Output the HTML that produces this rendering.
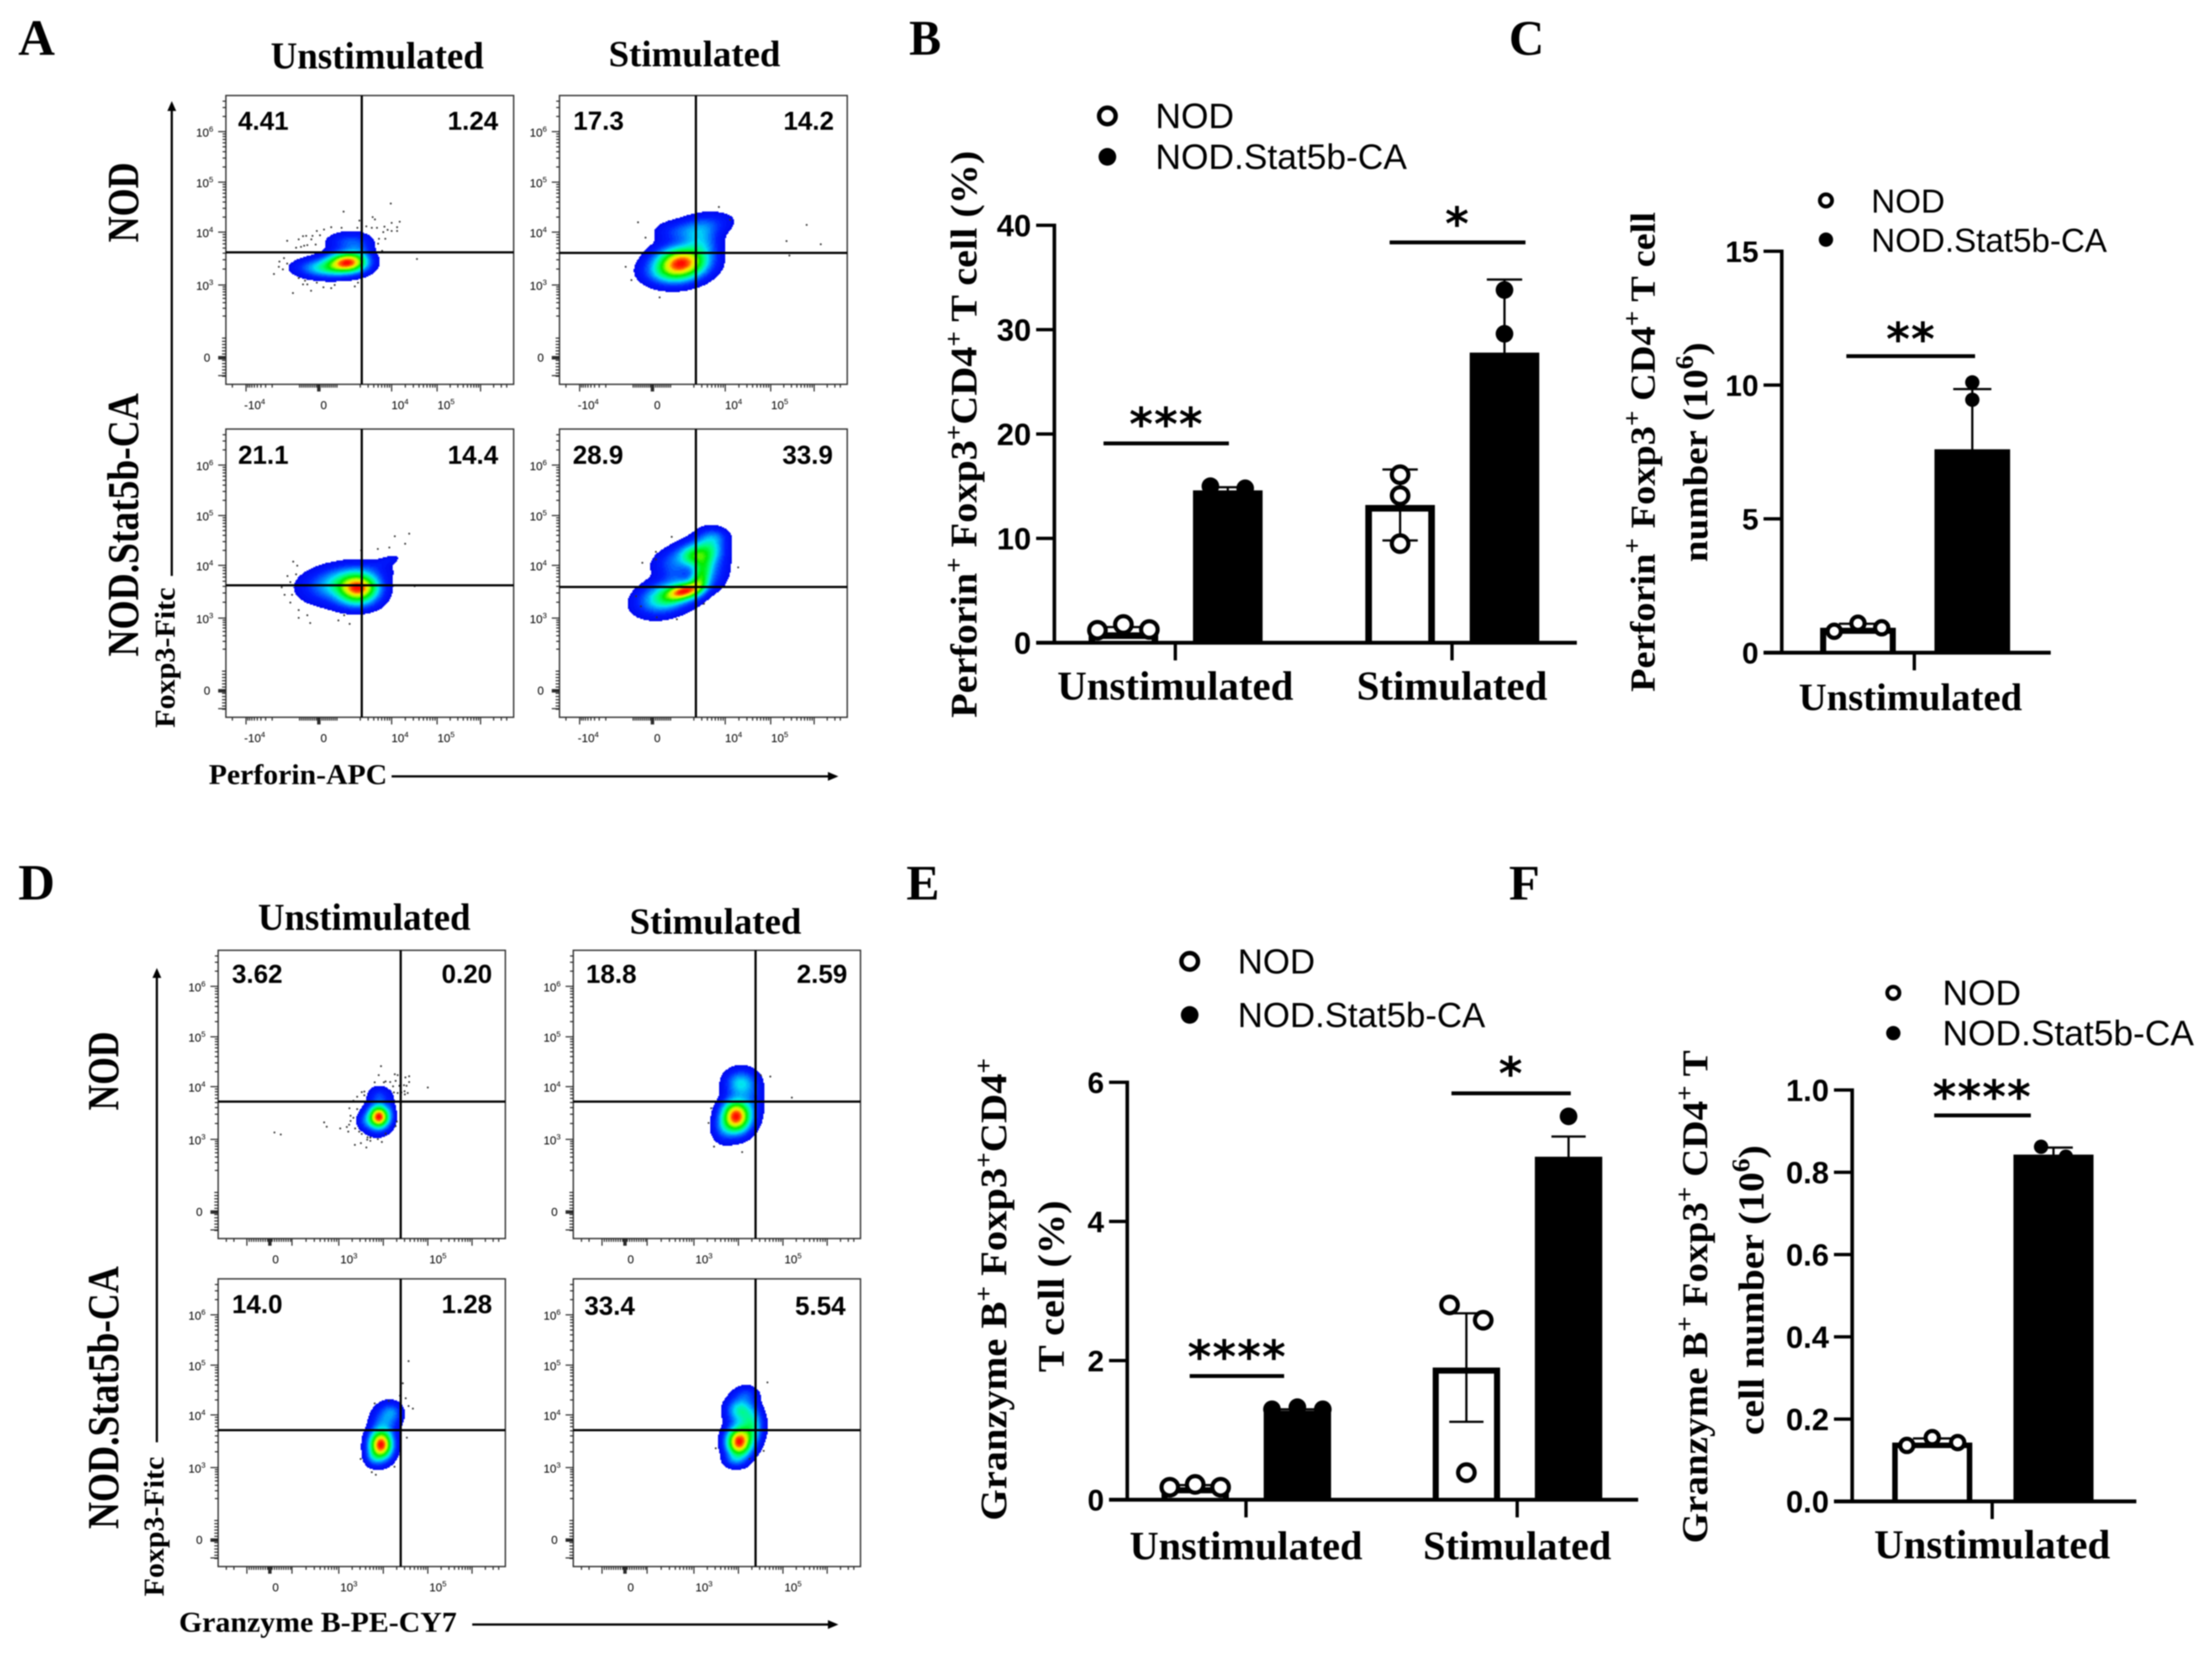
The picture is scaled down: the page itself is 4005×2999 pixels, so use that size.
<!DOCTYPE html>
<html lang="en">
<head>
<meta charset="utf-8">
<title>Perforin and Granzyme B flow cytometry figure</title>
<style>
html,body{margin:0;padding:0;background:#fff;}
svg{display:block;filter:blur(1.1px);}
.serif{font-family:"Liberation Serif",serif;font-weight:bold;fill:#000;}
.sans{font-family:"Liberation Sans",sans-serif;fill:#000;}
</style>
</head>
<body>
<svg id="figure" xmlns="http://www.w3.org/2000/svg" width="4005" height="2999" viewBox="0 0 4005 2999">
<rect width="4005" height="2999" fill="#fff"/>

<text class="serif" x="33" y="99" font-size="92">A</text>
<text class="serif" x="1646" y="99" font-size="90" textLength="58" lengthAdjust="spacingAndGlyphs">B</text>
<text class="serif" x="2732" y="99" font-size="90" textLength="64" lengthAdjust="spacingAndGlyphs">C</text>
<text class="serif" x="33" y="1629" font-size="92">D</text>
<text class="serif" x="1641" y="1629" font-size="90" textLength="60" lengthAdjust="spacingAndGlyphs">E</text>
<text class="serif" x="2732" y="1629" font-size="90" textLength="56" lengthAdjust="spacingAndGlyphs">F</text>

<text class="serif" x="490" y="124" font-size="69" textLength="386" lengthAdjust="spacingAndGlyphs">Unstimulated</text>
<text class="serif" x="1102" y="120" font-size="67" textLength="311" lengthAdjust="spacingAndGlyphs">Stimulated</text>
<text class="serif" transform="translate(250 439) rotate(-90)" font-size="80" textLength="145" lengthAdjust="spacingAndGlyphs">NOD</text>
<text class="serif" transform="translate(250 1189) rotate(-90)" font-size="80" textLength="477" lengthAdjust="spacingAndGlyphs">NOD.Stat5b-CA</text>
<text class="serif" transform="translate(316 1318) rotate(-90)" font-size="52" textLength="254" lengthAdjust="spacingAndGlyphs">Foxp3-Fitc</text>
<text class="serif" x="378" y="1420" font-size="52" textLength="323" lengthAdjust="spacingAndGlyphs">Perforin-APC</text>
<g>
<line x1="311" y1="1043" x2="311" y2="195" stroke="#000" stroke-width="4"/>
<polygon points="311,183 303,201 319,201" fill="#000"/>
</g>
<g>
<line x1="709" y1="1406" x2="1505" y2="1406" stroke="#000" stroke-width="4"/>
<polygon points="1518,1406 1499,1398 1499,1414" fill="#000"/>
</g>

<text class="serif" x="467" y="1684" font-size="69" textLength="385" lengthAdjust="spacingAndGlyphs">Unstimulated</text>
<text class="serif" x="1140" y="1691" font-size="67" textLength="311" lengthAdjust="spacingAndGlyphs">Stimulated</text>
<text class="serif" transform="translate(214 2011) rotate(-90)" font-size="80" textLength="143" lengthAdjust="spacingAndGlyphs">NOD</text>
<text class="serif" transform="translate(214 2769) rotate(-90)" font-size="80" textLength="476" lengthAdjust="spacingAndGlyphs">NOD.Stat5b-CA</text>
<text class="serif" transform="translate(296 2891) rotate(-90)" font-size="52" textLength="253" lengthAdjust="spacingAndGlyphs">Foxp3-Fitc</text>
<text class="serif" x="324" y="2955" font-size="52" textLength="503" lengthAdjust="spacingAndGlyphs">Granzyme B-PE-CY7</text>
<g>
<line x1="284" y1="2612" x2="284" y2="1765" stroke="#000" stroke-width="4"/>
<polygon points="284,1753 276,1771 292,1771" fill="#000"/>
</g>
<g>
<line x1="855" y1="2942" x2="1505" y2="2942" stroke="#000" stroke-width="4"/>
<polygon points="1518,2942 1499,2934 1499,2950" fill="#000"/>
</g>

<g id="flow-layer"></g>
<g id="bar-layer"></g>

<text class="serif" transform="translate(1768 1300) rotate(-90)" font-size="68" textLength="1027" lengthAdjust="spacingAndGlyphs">Perforin<tspan dy="-26" font-size="46">+</tspan><tspan dy="26"> Foxp3</tspan><tspan dy="-26" font-size="46">+</tspan><tspan dy="26">CD4</tspan><tspan dy="-26" font-size="46">+</tspan><tspan dy="26"> T cell (%)</tspan></text>
<text class="serif" transform="translate(2996 1253) rotate(-90)" font-size="64" textLength="869" lengthAdjust="spacingAndGlyphs">Perforin<tspan dy="-26" font-size="46">+</tspan><tspan dy="26"> Foxp3</tspan><tspan dy="-26" font-size="46">+</tspan><tspan dy="26"> CD4</tspan><tspan dy="-26" font-size="46">+</tspan><tspan dy="26"> T cell</tspan></text>
<text class="serif" transform="translate(3091 1018) rotate(-90)" font-size="64" textLength="398" lengthAdjust="spacingAndGlyphs">number (10<tspan dy="-26" font-size="46">6</tspan><tspan dy="26">)</tspan></text>
<text class="serif" transform="translate(1822 2754) rotate(-90)" font-size="68" textLength="838" lengthAdjust="spacingAndGlyphs">Granzyme B<tspan dy="-26" font-size="46">+</tspan><tspan dy="26"> Foxp3</tspan><tspan dy="-26" font-size="46">+</tspan><tspan dy="26">CD4</tspan><tspan dy="-26" font-size="46">+</tspan></text>
<text class="serif" transform="translate(1926 2485) rotate(-90)" font-size="68" textLength="311" lengthAdjust="spacingAndGlyphs">T cell (%)</text>
<text class="serif" transform="translate(3091 2795) rotate(-90)" font-size="66" textLength="893" lengthAdjust="spacingAndGlyphs">Granzyme B<tspan dy="-26" font-size="46">+</tspan><tspan dy="26"> Foxp3</tspan><tspan dy="-26" font-size="46">+</tspan><tspan dy="26"> CD4</tspan><tspan dy="-26" font-size="46">+</tspan><tspan dy="26"> T</tspan></text>
<text class="serif" transform="translate(3193 2599) rotate(-90)" font-size="66" textLength="525" lengthAdjust="spacingAndGlyphs">cell number (10<tspan dy="-26" font-size="46">6</tspan><tspan dy="26">)</tspan></text>

<g>
<circle cx="2005" cy="210" r="15" fill="#fff" stroke="#000" stroke-width="8"/>
<text class="sans" x="2092" y="232" font-size="64">NOD</text>
<circle cx="2005" cy="284" r="16" fill="#000"/>
<text class="sans" x="2092" y="306" font-size="64">NOD.Stat5b-CA</text>
</g>
<g>
<circle cx="3306" cy="363" r="11" fill="#fff" stroke="#000" stroke-width="7"/>
<text class="sans" x="3388" y="385" font-size="60">NOD</text>
<circle cx="3306" cy="434" r="13" fill="#000"/>
<text class="sans" x="3388" y="456" font-size="60">NOD.Stat5b-CA</text>
</g>
<g>
<circle cx="2154" cy="1741" r="15" fill="#fff" stroke="#000" stroke-width="8"/>
<text class="sans" x="2241" y="1763" font-size="63">NOD</text>
<circle cx="2154" cy="1838" r="16" fill="#000"/>
<text class="sans" x="2241" y="1860" font-size="63">NOD.Stat5b-CA</text>
</g>
<g>
<circle cx="3428" cy="1798" r="11" fill="#fff" stroke="#000" stroke-width="7"/>
<text class="sans" x="3517" y="1820" font-size="64">NOD</text>
<circle cx="3428" cy="1871" r="13" fill="#000"/>
<text class="sans" x="3517" y="1893" font-size="64">NOD.Stat5b-CA</text>
</g>
</svg>

<script>
/* ---------- Bar chart data ---------- */
const barGroups = ['Unstimulated', 'Stimulated'];
const barGroupsSingle = ['Unstimulated'];

const bTicks = [0, 10, 20, 30, 40];
const bNodMeans = [1.0, 13.2];
const bCaMeans = [14.6, 27.8];
const bNodErr = [0.5, 3.4];
const bCaErr = [0.3, 7.0];
const bNodPoints = [[1.2, 1.75, 1.27], [16.1, 14.1, 9.5]];
const bCaPoints = [[15.0, 14.8], [33.8, 29.6, 20.3]];

const cTicks = [0, 5, 10, 15];
const cNodMeans = [0.93];
const cCaMeans = [7.6];
const cNodErr = [0.15];
const cCaErr = [2.25];
const cNodPoints = [[0.8, 1.1, 0.93]];
const cCaPoints = [[10.1, 9.45, 3.25]];

const eTicks = [0, 2, 4, 6];
const eNodMeans = [0.18, 1.9];
const eCaMeans = [1.28, 4.93];
const eNodErr = [0.03, 0.78];
const eCaErr = [0.02, 0.29];
const eNodPoints = [[0.18, 0.22, 0.18], [2.8, 2.58, 0.39]];
const eCaPoints = [[1.3, 1.33, 1.3], [5.51, 4.7, 4.58]];

const fTicks = [0, 0.2, 0.4, 0.6, 0.8, 1.0];
const fTickLabels = ['0.0', '0.2', '0.4', '0.6', '0.8', '1.0'];
const fNodMeans = [0.143];
const fCaMeans = [0.843];
const fNodErr = [0.01];
const fCaErr = [0.017];
const fNodPoints = [[0.136, 0.155, 0.143]];
const fCaPoints = [[0.862, 0.838]];

/* ---------- Flow cytometry data: axis units are percent of the plot width and height ---------- */
/* density components: centre x, centre y, spread x, spread y, tilt, weight */
const aNodUnstimDensity = [[42, 57.5, 4.2, 2.2, 0, .8], [35, 59.5, 6, 2.1, 0, .35], [42.5, 50.5, 4.6, 2.1, 0, .13], [46, 55, 3, 3.3, 0, .12]];
const aNodStimDensity = [[42.5, 57.5, 5.5, 3.4, 0, .85], [38, 61, 5.5, 3, 0, .3], [49, 51, 4, 4, -40, .22], [50, 45, 6, 2.6, -10, .14], [41, 47, 5, 2.4, 0, .1]];
const aCaUnstimDensity = [[46, 55, 4.5, 3, 0, .8], [38, 54, 7, 3.6, -5, .25], [46, 49.5, 7, 2.5, -5, .1], [56, 45.5, 3.2, 1.1, -20, .05], [45, 60, 5, 2.2, 0, .12]];
const aCaStimDensity = [[43.5, 56, 4, 1.8, -15, .7], [37, 58, 6, 3.4, -15, .42], [49, 51, 2.2, 4, 20, .45], [47, 44, 3.5, 2.8, 0, .42], [52, 41, 3.5, 3.5, 15, .3], [54, 37, 3, 1.8, 0, .08], [40, 45, 5, 2.8, -20, .14], [54, 50, 3, 4, 25, .1], [40, 50, 3, 2.5, 0, .08]];
const dNodUnstimDensity = [[55.9, 57.4, 2.2, 2.4, 0, .8], [55, 58.5, 3, 3, 0, .25], [51, 59, 1.8, 1.8, 0, .08], [56, 50.5, 2.5, 2.2, 0, .13], [60, 55, 1, 3, 0, .05]];
const dNodStimDensity = [[56.5, 57.5, 3.2, 3.6, 0, .85], [58, 46, 3.4, 3, 0, .25], [62, 52, 2.8, 5, 0, .08], [52, 62, 2.5, 3, 0, .1]];
const dCaUnstimDensity = [[56.5, 57.5, 2.6, 3.2, 0, .8], [58, 49, 3, 3.5, 15, .16], [60.5, 46, 2.2, 2, 15, .1], [54, 62, 2, 2, 0, .1]];
const dCaStimDensity = [[57.5, 56.5, 2.8, 3.4, 0, .85], [57.8, 45.5, 3, 2.8, 0, .3], [62, 51, 2.5, 4, 0, .3], [60, 40, 2.8, 2, 0, .1], [56, 63, 2.5, 1.6, 0, .1]];

const aNodUnstimEvents = [[40.9,40.2],[57.3,37.4],[21.3,50.3],[25.3,49.8],[26.8,48.7],[27.9,48.6],[30.1,48.6],[32.7,48.4],[31.6,46.9],[34.1,46.4],[36.6,45.6],[40.2,45.8],[45.7,45.8],[46.4,43.3],[51,42.1],[51.8,42.9],[48.8,45.3],[50.7,45.8],[52.5,45.8],[55.1,45.4],[57.6,44.1],[60.4,43.7],[59.5,45.6],[59.5,46.9],[57.6,46.9],[54.7,47.3],[56.2,46.5],[53.2,49.6],[55.4,49.6],[52.9,51.3],[54.3,53.8],[66.4,56.6],[16.7,61.8],[20.2,56.3],[18.6,57.5],[18.4,59.3],[19.8,60.2],[21.3,58.2],[25.3,63.2],[27.5,64.1],[26.8,65.4],[28.3,65.4],[31.6,64.8],[33.9,66.4],[36.6,66.7],[37.8,65.6],[44.8,66.1],[45.9,64.8],[29.6,67.6],[23.3,68.4],[24.4,52.7],[26.1,52.4],[28.3,51.8],[29.7,49.8],[31.2,51.6],[27.2,52]];
const aNodStimEvents = [[27.3,43.9],[29.9,49.2],[23,59.3],[25,63.9],[34.8,69.9],[79.9,55.4],[78.9,50.4],[85.9,44.8],[90.8,51.5],[55.4,38.6],[59.3,43]];
const aCaUnstimEvents = [[23.4,46],[24.4,50.4],[22.4,53.1],[20.4,57.5],[22.4,60.2],[25.3,62.8],[28.3,64.6],[25.3,65.5],[39.1,66.4],[43,67.6],[41.1,64.6],[63.7,36.3],[58.7,37.2],[62.3,39.8],[56.8,41.1],[52.8,41.6],[47,42.1],[21.4,51],[19.4,54.9],[23,57.5],[24.8,47.4],[65.6,54.5],[29.3,67.3]];
const aCaStimEvents = [[39,37.4],[33.5,42.6],[33.5,45.2],[28.8,46.4],[62.1,48],[26.6,58],[28.3,61.5],[33.8,65.3],[40.8,66],[50.2,60.6]];
const dNodUnstimEvents = [[56.7,40.2],[55.9,43.3],[61.5,43],[62.5,43.3],[65.2,44.1],[66.5,43.7],[66.5,45.7],[73,47.6],[61.8,45.3],[59.9,45.7],[58.3,45.5],[57.7,45.8],[54.5,45.8],[60.9,47.2],[63.1,47],[64.7,46.8],[65.6,47],[61.2,49.3],[62.5,49.5],[63.8,49.3],[64.9,48.9],[66,49.5],[65,50],[50.9,49],[50,49.2],[50.9,50.3],[48.4,50.8],[47.1,52.2],[45.7,54.8],[48.4,55.1],[46.1,57.4],[47.1,58.1],[46.1,59.2],[45.6,60.5],[44.8,61.3],[42.5,61.8],[45.3,62.9],[47.7,61.8],[49.1,62.9],[50,63.7],[52,64.9],[53,65],[51.9,65.7],[53,66.1],[55.6,65.5],[57,66.5],[47.6,67.5],[49.7,66.9],[51.6,68.4],[58.3,63.6],[61.8,61],[62.2,59.4],[19.6,63.2],[21.8,63.9],[36.9,59.7],[37.8,61.2]];
const dNodStimEvents = [[68.6,43.8],[65.3,43.4],[76.1,51.1],[47.1,59.9],[49,68.1],[58.8,70],[48,54.8]];
const dCaUnstimEvents = [[66.3,28.6],[64.3,36.3],[63.3,40.6],[66.3,44.2],[67.8,45.1],[59.4,42.4],[54.5,43.3],[49.6,62.6],[53.5,67.2],[54.9,68.1],[61.4,65.3],[65.7,55.2],[65.3,41.5]];
const dCaStimEvents = [[67.6,36],[49.6,58.9],[66.3,59.8],[61.4,62.6]];

const aQuadrantLabels = [['4.41', '1.24'], ['17.3', '14.2'], ['21.1', '14.4'], ['28.9', '33.9']];
const dQuadrantLabels = [['3.62', '0.20'], ['18.8', '2.59'], ['14.0', '1.28'], ['33.4', '5.54']];
const flowYTickExponents = ['6', '5', '4', '3'];
const aXTickLabels = [['-10', '4'], ['0', ''], ['10', '4'], ['10', '5']];
const dXTickLabels = [['0', ''], ['10', '3'], ['10', '5']];

/* ---------- Helpers ---------- */
const NS = 'http://www.w3.org/2000/svg';
function mk(tag, parent, attrs) {
  const el = document.createElementNS(NS, tag);
  for (const k in attrs) el.setAttribute(k, attrs[k]);
  parent.appendChild(el);
  return el;
}

/* ---------- Flow plots ---------- */
const rampStops = [[0, [0,0,235]], [.1, [0,30,255]], [.2, [0,125,255]], [.3, [0,225,245]], [.42, [0,255,120]], [.55, [0,235,0]], [.7, [190,255,0]], [.8, [255,225,0]], [.9, [255,95,0]], [1, [255,0,0]]];
function rampColor(d) {
  for (let i = 1; i < rampStops.length; i++) {
    if (d <= rampStops[i][0]) {
      const a = rampStops[i - 1], b = rampStops[i], t = (d - a[0]) / (b[0] - a[0]);
      return 'rgb(' + [0, 1, 2].map(c => Math.round(a[1][c] + (b[1][c] - a[1][c]) * t)).join(',') + ')';
    }
  }
  return 'rgb(255,0,0)';
}

function logSeg(a, b) {
  const out = [];
  for (let j = 2; j < 10; j++) out.push(a + (b - a) * Math.log10(j));
  return out;
}

function drawDensity(g, box, comps) {
  const W = box.r - box.l, H = box.b - box.t, cell = 2, threshold = 0.03, levels = 48;
  const parts = comps.map(c => {
    const th = c[4] * Math.PI / 180;
    return {cx: box.l + W * c[0] / 100, cy: box.t + H * c[1] / 100, sx: W * c[2] / 100, sy: H * c[3] / 100, cos: Math.cos(th), sin: Math.sin(th), w: c[5]};
  });
  function field(x, y) {
    let s = 0;
    for (const p of parts) {
      const dx = x - p.cx, dy = y - p.cy;
      const u = (dx * p.cos + dy * p.sin) / p.sx, v = (-dx * p.sin + dy * p.cos) / p.sy;
      const e = u * u + v * v;
      if (e < 40) s += p.w * Math.exp(-0.5 * e);
    }
    return s;
  }
  let peak = 0;
  for (let y = box.t; y < box.b; y += cell) for (let x = box.l; x < box.r; x += cell) peak = Math.max(peak, field(x, y));
  const paths = {};
  for (let y = box.t; y < box.b; y += cell) {
    let runLevel = -1, runStart = 0;
    for (let x = box.l; x <= box.r; x += cell) {
      const d = x < box.r ? field(x, y) / peak : 0;
      const lvl = d < threshold ? -1 : Math.min(levels - 1, Math.floor(d * levels));
      if (lvl !== runLevel) {
        if (runLevel >= 0) paths[runLevel] = (paths[runLevel] || '') + 'M' + runStart + ' ' + y + 'h' + (x - runStart) + 'v' + cell + 'h' + (runStart - x) + 'z';
        runLevel = lvl;
        runStart = x;
      }
    }
  }
  for (const lvl in paths) {
    const band = mk('path', g, {d: paths[lvl], fill: rampColor((+lvl + .5) / levels), 'shape-rendering': 'crispEdges'});
    
    
  }
}

function drawFlowPanel(parent, box, density, events, stats, xAxis, labelInset) {
  const W = box.r - box.l, H = box.b - box.t;
  const X = p => box.l + W * p / 100, Y = p => box.t + H * p / 100;
  const g = mk('g', parent, {});
  
  

  drawDensity(g, box, density);

  for (const ev of events) {
    const dot = mk('circle', g, {cx: X(ev[0]), cy: Y(ev[1]), r: 1.7, fill: '#333'});
    
    
  }

  const border = mk('rect', g, {x: box.l, y: box.t, width: W, height: H, fill: 'none', stroke: '#333', 'stroke-width': 2.5});
  
  

  const vLine = mk('line', g, {x1: box.vx, x2: box.vx, y1: box.t, y2: box.b, stroke: '#000', 'stroke-width': 4});
  
  
  const hLine = mk('line', g, {x1: box.l, x2: box.r, y1: box.hy, y2: box.hy, stroke: '#000', 'stroke-width': 4});
  
  

  /* y axis ticks */
  const yMajors = [12.5, 30, 47.3, 65.6];
  let yd = '';
  const yMinor = [...logSeg(12.5, -5), ...logSeg(30, 12.5), ...logSeg(47.3, 30), ...logSeg(65.6, 47.3), ...logSeg(81, 65.6)];
  for (const p of yMinor) if (p > 1 && p < 99) yd += 'M' + box.l + ' ' + Y(p) + 'h-6';
  for (let p = 84; p < 97.5; p += 1.1) yd += 'M' + box.l + ' ' + Y(p) + 'h-7';
  for (const p of yMajors) yd += 'M' + box.l + ' ' + Y(p) + 'h-14';
  yd += 'M' + box.l + ' ' + Y(90.4) + 'h-14M' + box.l + ' ' + Y(90.8) + 'h-14M' + box.l + ' ' + Y(91.2) + 'h-14M' + box.l + ' ' + Y(97) + 'h-14';
  const yTicks = mk('path', g, {d: yd, stroke: '#222', 'stroke-width': 2, fill: 'none'});
  
  

  flowYTickExponents.forEach((exp, i) => {
    const t = mk('text', g, {class: 'sans', x: box.l - 54, y: Y(yMajors[i]) + 9, 'font-size': 21, fill: '#222'});
    t.textContent = '10';
    
    
    const s = mk('tspan', t, {dy: -9, 'font-size': 14});
    s.textContent = exp;
    
    
  });
  const zeroY = mk('text', g, {class: 'sans', x: box.l - 40, y: Y(90.8) + 7, 'font-size': 21, fill: '#222'});
  zeroY.textContent = '0';
  
  

  /* x axis ticks */
  let xd = '';
  for (const p of xAxis.minor) if (p > 1 && p < 99) xd += 'M' + X(p) + ' ' + box.b + 'v6';
  for (const p of xAxis.major) xd += 'M' + X(p) + ' ' + box.b + 'v13';
  const xTicks = mk('path', g, {d: xd, stroke: '#222', 'stroke-width': 2, fill: 'none'});
  
  

  xAxis.labels.forEach((lab, i) => {
    const t = mk('text', g, {class: 'sans', x: X(xAxis.labelAt[i]), y: box.b + 45, 'font-size': 21, fill: '#222', 'text-anchor': 'middle'});
    t.textContent = lab[0];
    
    
    if (lab[1]) {
      const s = mk('tspan', t, {dy: -9, 'font-size': 14});
      s.textContent = lab[1];
      
      
    }
  });

  const left = mk('text', g, {class: 'sans', x: box.l + labelInset[0], y: box.t + labelInset[1], 'font-size': 47, 'font-weight': 'bold'});
  left.textContent = stats[0];
  
  
  const right = mk('text', g, {class: 'sans', x: box.r - labelInset[2], y: box.t + labelInset[1], 'font-size': 47, 'font-weight': 'bold', 'text-anchor': 'end'});
  right.textContent = stats[1];
  
  
}

const flowLayer = document.getElementById('flow-layer');
function zeroRun(a, b, step) { const o = []; for (let p = a; p < b; p += step) o.push(p); return o; }
const aXAxis = {
  major: [7, 31.9, 32.3, 32.7, 57.6, 73.4, 88.5],
  minor: [...logSeg(57.6, 73.4), ...logSeg(73.4, 88.5), ...logSeg(88.5, 103.6), ...logSeg(7, -8.8), ...zeroRun(25.6, 39, .65), ...logSeg(42, 57.6), ...logSeg(20, 7)],
  labels: aXTickLabels, labelAt: [10, 34, 60.5, 76.5]
};
const dXAxis = {
  major: [10, 17.6, 18, 18.4, 25.7, 42, 57.5, 73, 88.4],
  minor: [...logSeg(25.7, 42), ...logSeg(42, 57.5), ...logSeg(57.5, 73), ...logSeg(73, 88.4), ...logSeg(88.4, 103.8), ...logSeg(10, -5), ...zeroRun(10, 25.7, .8)],
  labels: dXTickLabels, labelAt: [20, 45.5, 76.5]
};
drawFlowPanel(flowLayer, {l: 409, r: 930, t: 173, b: 696, vx: 655, hy: 457}, aNodUnstimDensity, aNodUnstimEvents, aQuadrantLabels[0], aXAxis, [22, 62, 28]);
drawFlowPanel(flowLayer, {l: 1013, r: 1534, t: 173, b: 696, vx: 1260, hy: 458}, aNodStimDensity, aNodStimEvents, aQuadrantLabels[1], aXAxis, [25, 62, 24]);
drawFlowPanel(flowLayer, {l: 409, r: 930, t: 777, b: 1299, vx: 655, hy: 1060}, aCaUnstimDensity, aCaUnstimEvents, aQuadrantLabels[2], aXAxis, [22, 63, 28]);
drawFlowPanel(flowLayer, {l: 1013, r: 1534, t: 777, b: 1299, vx: 1260, hy: 1063}, aCaStimDensity, aCaStimEvents, aQuadrantLabels[3], aXAxis, [24, 63, 26]);
drawFlowPanel(flowLayer, {l: 395, r: 915, t: 1721, b: 2243, vx: 725.5, hy: 1995}, dNodUnstimDensity, dNodUnstimEvents, dQuadrantLabels[0], dXAxis, [25, 59, 24]);
drawFlowPanel(flowLayer, {l: 1038, r: 1558, t: 1721, b: 2243, vx: 1368, hy: 1995}, dNodStimDensity, dNodStimEvents, dQuadrantLabels[1], dXAxis, [23, 59, 24]);
drawFlowPanel(flowLayer, {l: 395, r: 915, t: 2316, b: 2837, vx: 725.5, hy: 2590}, dCaUnstimDensity, dCaUnstimEvents, dQuadrantLabels[2], dXAxis, [25, 62, 24]);
drawFlowPanel(flowLayer, {l: 1038, r: 1558, t: 2316, b: 2837, vx: 1368, hy: 2590}, dCaStimDensity, dCaStimEvents, dQuadrantLabels[3], dXAxis, [20, 65, 27]);

/* ---------- Bar charts ---------- */
function swarmOffsets(values, Y, r, d3, d2) {
  const order = values.map((v, i) => [v, i]).sort((a, b) => b[0] - a[0]);
  const offsets = new Array(values.length).fill(0);
  let i = 0;
  while (i < order.length) {
    let j = i;
    while (j + 1 < order.length && Y(order[j + 1][0]) - Y(order[j][0]) < 2 * r) j++;
    const size = j - i + 1;
    if (size === 2) {
      offsets[order[i][1]] = -d2 / 2;
      offsets[order[j][1]] = d2 / 2;
    } else if (size >= 3) {
      offsets[order[i][1]] = 0;
      offsets[order[i + 1][1]] = d3;
      offsets[order[i + 2][1]] = -d3;
    }
    i = j + 1;
  }
  return offsets;
}

function drawBarChart(c) {
  const g = mk('g', document.getElementById('bar-layer'), {});
  
  
  const Y = v => c.y0 + (c.yTop - c.y0) * v / c.yMax;
  const groupX = i => c.firstTick + i * c.step;
  const maxTick = c.ticks[c.ticks.length - 1];

  /* bars */
  c.groups.forEach((grp, i) => {
    const nodX = groupX(i) + c.nodOffset, caX = groupX(i) + c.caOffset, sw = c.barStroke;
    const bl = nodX - c.barW / 2 + sw / 2, br = nodX + c.barW / 2 - sw / 2, bt = Y(c.nodMeans[i]) + sw / 2;
    const wb = mk('path', g, {d: 'M' + bl + ' ' + c.y0 + 'V' + bt + 'H' + br + 'V' + c.y0, fill: '#fff', stroke: '#000', 'stroke-width': sw});
    
    
    const bb = mk('rect', g, {x: caX - c.barW / 2, y: Y(c.caMeans[i]), width: c.barW, height: c.y0 - Y(c.caMeans[i]), fill: '#000'});
    
    

    /* error bars */
    [[nodX, c.nodMeans[i], c.nodErr[i]], [caX, c.caMeans[i], c.caErr[i]]].forEach(e => {
      const up = Y(e[1] + e[2]), low = Y(Math.max(0, e[1] - e[2]));
      const ep = mk('path', g, {d: 'M' + e[0] + ' ' + low + 'V' + up + 'M' + (e[0] - c.cap / 2) + ' ' + up + 'h' + c.cap + 'M' + (e[0] - c.cap / 2) + ' ' + low + 'h' + c.cap, stroke: '#000', 'stroke-width': 4, fill: 'none'});
      
      
    });

    /* data points */
    const nodOff = swarmOffsets(c.nodPoints[i], Y, c.r, c.d3, c.d2);
    c.nodPoints[i].forEach((v, k) => {
      const pt = mk('circle', g, {cx: nodX + nodOff[k], cy: Y(v), r: c.r, fill: '#fff', stroke: '#000', 'stroke-width': 7.5});
      
      
    });
    const caOff = swarmOffsets(c.caPoints[i], Y, c.r, c.d3, c.d2);
    c.caPoints[i].forEach((v, k) => {
      const pt = mk('circle', g, {cx: caX + caOff[k], cy: Y(v), r: c.r + 1, fill: '#000'});
      
      
    });

    /* category tick and label */
    const xt = mk('line', g, {x1: groupX(i), x2: groupX(i), y1: c.y0, y2: c.y0 + 32, stroke: '#000', 'stroke-width': 6});
    
    
    const xl = mk('text', g, {class: 'serif', x: groupX(i) + (c.labelShift || 0), y: c.labelBaseline, 'font-size': c.labelSize, 'text-anchor': 'middle'});
    xl.textContent = grp;
    
    
  });

  /* axes */
  const yAxis = mk('line', g, {x1: c.axisX, x2: c.axisX, y1: Y(maxTick) - 3, y2: c.y0, stroke: '#000', 'stroke-width': 6.5});
  
  
  const xAxisLine = mk('line', g, {x1: c.axisX - 33, x2: c.xEnd, y1: c.y0, y2: c.y0, stroke: '#000', 'stroke-width': 7});
  
  
  c.ticks.forEach((v, i) => {
    const tk = mk('line', g, {x1: c.axisX - 33, x2: c.axisX, y1: Y(v), y2: Y(v), stroke: '#000', 'stroke-width': 6});
    
    
    const tl = mk('text', g, {class: 'sans', x: c.axisX - 42, y: Y(v) + c.tickSize * .36, 'font-size': c.tickSize, 'font-weight': 'bold', 'text-anchor': 'end'});
    tl.textContent = c.tickLabels ? c.tickLabels[i] : String(v);
    
    
  });

  /* significance */
  c.sig.forEach(s => {
    const ln = mk('line', g, {x1: s.x1, x2: s.x2, y1: s.y, y2: s.y, stroke: '#000', 'stroke-width': 7});
    
    
    const st = mk('text', g, {x: s.cx, y: s.starY + 43, 'font-size': 82, 'font-family': '"DejaVu Sans",sans-serif', 'font-weight': 'bold', 'text-anchor': 'middle', 'letter-spacing': 2});
    st.textContent = s.mark;
    
    
  });
}

drawBarChart({name: 'chart-b', groups: barGroups, ticks: bTicks, nodMeans: bNodMeans, caMeans: bCaMeans, nodErr: bNodErr, caErr: bCaErr, nodPoints: bNodPoints, caPoints: bCaPoints,
  y0: 1164, yTop: 408, yMax: 40, axisX: 1909, xEnd: 2855, firstTick: 2128, step: 501, nodOffset: -94, caOffset: 95, barW: 126, barStroke: 12, cap: 64, r: 15, d3: 47, d2: 63, tickSize: 56,
  labelBaseline: 1267, labelSize: 74,
  sig: [{x1: 1998, x2: 2225, y: 803, cx: 2112, starY: 754, mark: '***'}, {x1: 2516, x2: 2762, y: 439, cx: 2639, starY: 391, mark: '*'}]});

drawBarChart({name: 'chart-c', groups: barGroupsSingle, ticks: cTicks, nodMeans: cNodMeans, caMeans: cCaMeans, nodErr: cNodErr, caErr: cCaErr, nodPoints: cNodPoints, caPoints: cCaPoints,
  y0: 1182, yTop: 455, yMax: 15, axisX: 3226, xEnd: 3713, firstTick: 3466, step: 0, nodOffset: -102, caOffset: 105, barW: 137, barStroke: 11, cap: 69, r: 12, d3: 43, d2: 45, tickSize: 54,
  labelBaseline: 1286, labelSize: 70, labelShift: -7,
  sig: [{x1: 3343, x2: 3576, y: 645, cx: 3460, starY: 600, mark: '**'}]});

drawBarChart({name: 'chart-e', groups: barGroups, ticks: eTicks, nodMeans: eNodMeans, caMeans: eCaMeans, nodErr: eNodErr, caErr: eCaErr, nodPoints: eNodPoints, caPoints: eCaPoints,
  y0: 2716, yTop: 1960, yMax: 6, axisX: 2041, xEnd: 2966, firstTick: 2256, step: 491, nodOffset: -92, caOffset: 93, barW: 122, barStroke: 11, cap: 62, r: 15, d3: 46, d2: 61, tickSize: 54,
  labelBaseline: 2824, labelSize: 73,
  sig: [{x1: 2154, x2: 2325, y: 2492, cx: 2240, starY: 2443, mark: '****'}, {x1: 2628, x2: 2844, y: 1980, cx: 2736, starY: 1930, mark: '*'}]});

drawBarChart({name: 'chart-f', groups: barGroupsSingle, ticks: fTicks, tickLabels: fTickLabels, nodMeans: fNodMeans, caMeans: fCaMeans, nodErr: fNodErr, caErr: fCaErr, nodPoints: fNodPoints, caPoints: fCaPoints,
  y0: 2719, yTop: 1974, yMax: 1, axisX: 3353.5, xEnd: 3868, firstTick: 3607, step: 0, nodOffset: -108.5, caOffset: 111, barW: 145, barStroke: 10, cap: 70, r: 12, d3: 46, d2: 45, tickSize: 56,
  labelBaseline: 2822, labelSize: 74,
  sig: [{x1: 3502, x2: 3677, y: 2020, cx: 3589, starY: 1972, mark: '****'}]});
</script>
</body>
</html>
